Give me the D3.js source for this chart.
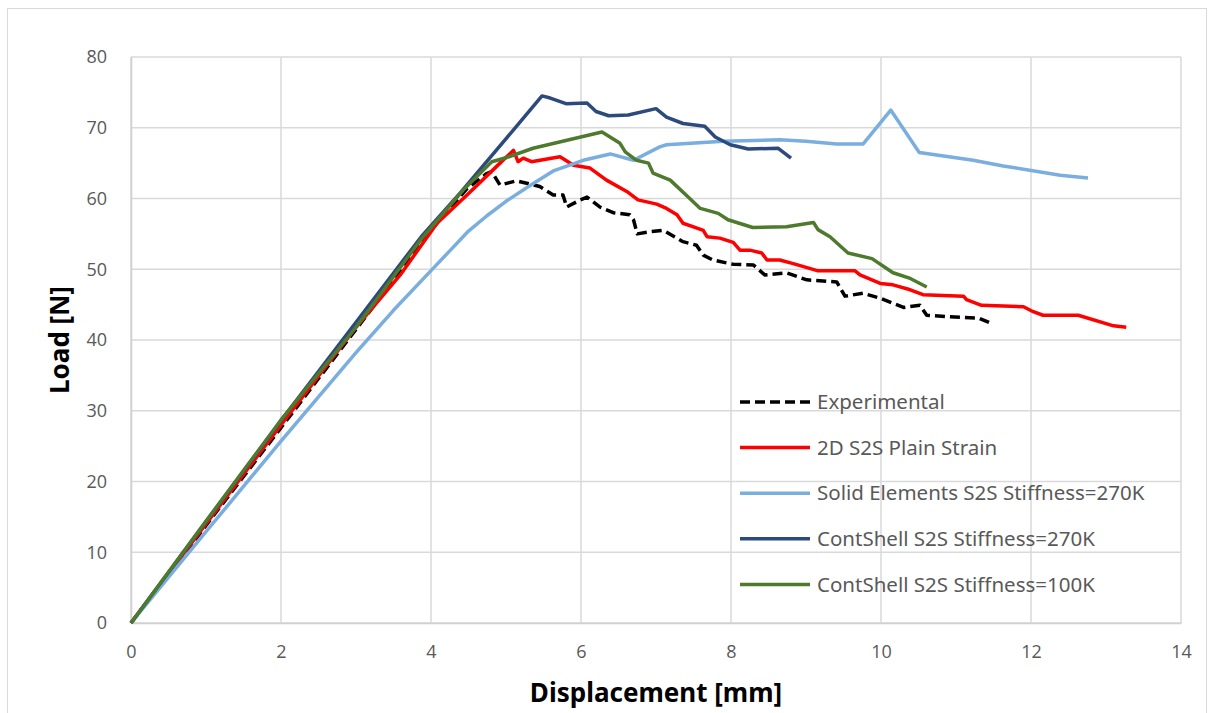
<!DOCTYPE html>
<html>
<head>
<meta charset="utf-8">
<script src="https://cdn.jsdelivr.net/npm/d3@7"></script>
<style>
  body { margin: 0; background: #fff; }
  text { font-family: "Noto Sans", "Open Sans", sans-serif; }
</style>
</head>
<body>
<div id="chart"></div>
<script>
const width = 1209;
const height = 713;
const margin = { top: 57, right: 28, bottom: 90, left: 131 };

// series data: [displacement mm, load N]
const experimental = [[0,0],[0.3,4.2],[0.6,8.1],[1,13.8],[2,27.6],[3,41.5],[4,55.5],[4.12,57],[4.48,61.4],[4.74,63.5],[4.81,63.8],
  [4.92,61.9],[5.14,62.5],[5.45,61.7],[5.63,60.5],[5.76,60.5],[5.81,58.8],[5.99,59.8],[6.08,60.2],[6.25,58.8],[6.43,58.0],
  [6.65,57.7],[6.7,57.0],[6.75,55.0],[6.92,55.3],[7.1,55.5],[7.36,53.9],[7.54,53.4],[7.63,52.0],[7.76,51.3],[8.03,50.7],
  [8.3,50.6],[8.45,49.2],[8.74,49.5],[9.01,48.5],[9.41,48.2],[9.52,46.2],[9.76,46.6],[9.99,45.9],[10.3,44.6],[10.52,44.9],
  [10.61,43.5],[10.88,43.3],[11.3,43.1],[11.48,42.3]];
const plainStrain = [[0,0],[1,14],[2,28],[3,41.8],[3.59,49.2],[4.08,56.5],[4.48,60.5],[4.92,65.0],[5.1,66.8],[5.16,65.2],[5.23,65.7],
  [5.34,65.2],[5.72,65.9],[5.9,64.7],[6.12,64.3],[6.34,62.6],[6.61,61.0],[6.76,59.8],[7.01,59.2],[7.14,58.6],[7.28,57.7],
  [7.36,56.5],[7.5,56.0],[7.63,55.5],[7.68,54.6],[7.85,54.4],[8.03,53.8],[8.12,52.7],[8.25,52.7],[8.41,52.3],[8.48,51.3],
  [8.65,51.3],[8.83,50.8],[9.15,49.8],[9.65,49.8],[9.72,49.2],[9.99,48.0],[10.16,47.8],[10.39,47.1],[10.56,46.4],[11.1,46.2],
  [11.14,45.7],[11.34,44.9],[11.9,44.7],[12.03,44.0],[12.16,43.5],[12.63,43.5],[13.1,42.0],[13.27,41.8]];
const solid270 = [[0,0],[1,12.9],[2,25.7],[3,38.2],[3.5,44.2],[4,49.8],[4.25,52.6],[4.5,55.4],[4.75,57.6],[5,59.6],[5.3,61.7],
  [5.63,63.9],[6.03,65.4],[6.39,66.3],[6.7,65.4],[7.05,67.3],[7.14,67.6],[7.9,68.1],[8.65,68.3],[9.0,68.1],[9.41,67.7],
  [9.76,67.7],[10.13,72.5],[10.51,66.5],[11.23,65.4],[11.63,64.6],[12.39,63.3],[12.76,62.9]];
const shell270 = [[0,0],[1,14.3],[2,28.6],[3,42.5],[3.87,54.6],[4.39,60.8],[5.1,69.7],[5.48,74.5],[5.59,74.2],[5.8,73.4],
  [6.08,73.5],[6.2,72.3],[6.37,71.7],[6.63,71.8],[7.0,72.7],[7.14,71.5],[7.36,70.6],[7.65,70.2],[7.79,68.7],[7.99,67.6],
  [8.23,67.0],[8.63,67.1],[8.8,65.7]];
const shell100 = [[0,0],[1,14.4],[2,28.7],[3,41.8],[3.88,54.4],[4.43,61.2],[4.81,65.2],[5.01,65.8],[5.36,67.1],[6.28,69.4],
  [6.52,67.8],[6.59,66.6],[6.74,65.4],[6.9,65.0],[6.96,63.6],[7.19,62.6],[7.45,60.0],[7.59,58.6],[7.83,57.9],[7.96,57.0],
  [8.29,55.9],[8.74,56.0],[9.1,56.6],[9.16,55.6],[9.32,54.6],[9.56,52.3],[9.88,51.5],[10.16,49.5],[10.39,48.7],[10.61,47.5]];

const seriesNames = ["Experimental", "2D S2S Plain Strain", "Solid Elements S2S Stiffness=270K",
  "ContShell S2S Stiffness=270K", "ContShell S2S Stiffness=100K"];
const seriesData = [experimental, plainStrain, solid270, shell270, shell100];
const seriesColors = ["#000000", "#ff0000", "#7aaede", "#2c4a7c", "#4d7a2c"];
const seriesDash = ["10,5", null, null, null, null];

const xTicks = [0, 2, 4, 6, 8, 10, 12, 14];
const yTicks = [0, 10, 20, 30, 40, 50, 60, 70, 80];

const svg = d3.select("#chart").append("svg")
    .attr("width", width)
    .attr("height", height);

// outer chart border
svg.append("rect")
    .attr("x", 7.5).attr("y", 8.5)
    .attr("width", 1199).attr("height", 720)
    .attr("fill", "#fff")
    .attr("stroke", "#d9d9d9");

const x = d3.scaleLinear().domain([0, 14]).range([margin.left, width - margin.right]);
const y = d3.scaleLinear().domain([0, 80]).range([height - margin.bottom, margin.top]);

// gridlines
svg.append("g")
    .selectAll("line.h")
    .data(yTicks)
    .join("line")
    .attr("x1", x(0)).attr("x2", x(14))
    .attr("y1", d => y(d)).attr("y2", d => y(d))
    .attr("stroke", "#d9d9d9")
    .attr("stroke-width", 1.5);
svg.append("g")
    .selectAll("line.v")
    .data(xTicks)
    .join("line")
    .attr("x1", d => x(d)).attr("x2", d => x(d))
    .attr("y1", y(0)).attr("y2", y(80))
    .attr("stroke", "#d9d9d9")
    .attr("stroke-width", 1.5);

// tick labels
const xAxis = svg.append("g")
    .attr("transform", `translate(0,${y(0)})`)
    .call(d3.axisBottom(x).tickValues(xTicks).tickSize(0).tickPadding(22));
xAxis.select(".domain").attr("stroke", "#d0d0d0").attr("stroke-width", 1.5);
xAxis.selectAll("text").attr("font-size", "18px").attr("fill", "#595959")
    .style("font-family", "'Open Sans', sans-serif");

const yAxis = svg.append("g")
    .attr("transform", `translate(${x(0)},0)`)
    .call(d3.axisLeft(y).tickValues(yTicks).tickSize(0).tickPadding(24));
yAxis.select(".domain").attr("stroke", "#d0d0d0").attr("stroke-width", 1.5);
yAxis.selectAll("text").attr("font-size", "18px").attr("fill", "#595959")
    .style("font-family", "'Open Sans', sans-serif");

// lines
const line = d3.line()
    .x(d => x(d[0]))
    .y(d => y(d[1]));

seriesData.forEach((data, i) => {
    svg.append("path")
        .datum(data)
        .attr("fill", "none")
        .attr("stroke", seriesColors[i])
        .attr("stroke-width", 3.5)
        .attr("stroke-linejoin", "round")
        .attr("stroke-dasharray", seriesDash[i])
        .attr("d", line);
});

// axis titles
svg.append("text")
    .attr("x", 656).attr("y", 702)
    .attr("text-anchor", "middle")
    .attr("font-size", "26px")
    .attr("font-weight", "bold")
    .attr("fill", "#000")
    .text("Displacement [mm]");

svg.append("text")
    .attr("transform", "translate(69,340) rotate(-90)")
    .attr("text-anchor", "middle")
    .attr("font-size", "26px")
    .attr("font-weight", "bold")
    .attr("fill", "#000")
    .text("Load [N]");

// legend
const legend = svg.append("g").attr("transform", "translate(740,402)");
seriesNames.forEach((name, i) => {
    const row = legend.append("g").attr("transform", `translate(0,${i * 45.6})`);
    row.append("line")
        .attr("x1", 0).attr("x2", 70)
        .attr("y1", 0).attr("y2", 0)
        .attr("stroke", seriesColors[i])
        .attr("stroke-width", 3.5)
        .attr("stroke-dasharray", seriesDash[i]);
    row.append("text")
        .attr("x", 77).attr("y", 0)
        .attr("dy", "0.35em")
        .attr("font-size", "20.5px")
        .attr("fill", "#595959")
        .text(name);
});
</script>
</body>
</html>
